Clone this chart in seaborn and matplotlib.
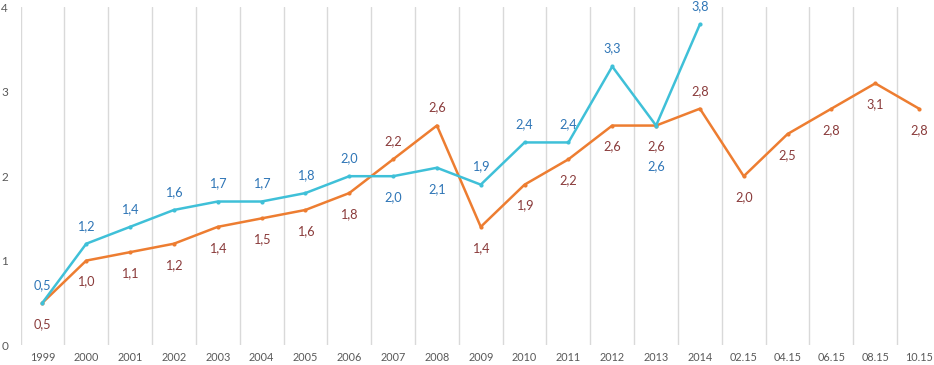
import numpy as np
import pandas as pd
import matplotlib
matplotlib.use("Agg")
import matplotlib.pyplot as plt
import seaborn as sns

# Dados
categories = ["1999", "2000", "2001", "2002", "2003", "2004", "2005", "2006",
              "2007", "2008", "2009", "2010", "2011", "2012", "2013", "2014",
              "02.15", "04.15", "06.15", "08.15", "10.15"]
cyan_values = [0.5, 1.2, 1.4, 1.6, 1.7, 1.7, 1.8, 2.0, 2.0, 2.1, 1.9, 2.4,
               2.4, 3.3, 2.6, 3.8]
orange_values = [0.5, 1.0, 1.1, 1.2, 1.4, 1.5, 1.6, 1.8, 2.2, 2.6, 1.4, 1.9,
                 2.2, 2.6, 2.6, 2.8, 2.0, 2.5, 2.8, 3.1, 2.8]
y_ticks = [0, 1, 2, 3, 4]

# Posição dos rótulos (exceções)
cyan_below = {"2007": 21, "2008": 21, "2013": 41}
orange_above = {"2007", "2008", "2014"}

CYAN = "#3FC0D8"
BLUE_LBL = "#2E75B6"
ORANGE = "#ED7D31"
RED_LBL = "#8A3B3B"

sns.set_theme(style="white")
plt.rcParams["font.family"] = ["Lato", "DejaVu Sans"]

df_c = pd.DataFrame({"x": np.arange(len(cyan_values)), "y": cyan_values})
df_o = pd.DataFrame({"x": np.arange(len(orange_values)), "y": orange_values})

fig = plt.figure(figsize=(9.34, 3.65), dpi=100)
ax = fig.add_axes([20.5 / 934, 20 / 365, 920.5 / 934, 337.6 / 365])

sns.lineplot(data=df_o, x="x", y="y", ax=ax, color=ORANGE, linewidth=1.8,
             marker="o", markersize=3, markeredgewidth=0, sort=False)
sns.lineplot(data=df_c, x="x", y="y", ax=ax, color=CYAN, linewidth=1.8,
             marker="o", markersize=3, markeredgewidth=0, sort=False)

px = 0.72  # pontos por pixel
for i, v in enumerate(cyan_values):
    cat = categories[i]
    if cat in cyan_below:
        off = -cyan_below[cat] * px
    else:
        off = 18 * px
    ax.annotate(f"{v:.1f}".replace(".", ","), (i, v), xytext=(0, off),
                textcoords="offset points", ha="center", va="center",
                fontsize=9.2, color=BLUE_LBL, annotation_clip=False)

for i, v in enumerate(orange_values):
    cat = categories[i]
    off = 18 * px if cat in orange_above else -21 * px
    ax.annotate(f"{v:.1f}".replace(".", ","), (i, v), xytext=(0, off),
                textcoords="offset points", ha="center", va="center",
                fontsize=9.2, color=RED_LBL, annotation_clip=False)

n = len(categories)
ax.set_xlim(-0.5, n - 0.5)
ax.set_ylim(0, 4)
ax.set_xticks(np.arange(n))
ax.set_xticklabels(categories)
ax.set_yticks(y_ticks)
ax.set_xticks(np.arange(-0.5, n), minor=True)
ax.grid(False)
ax.grid(which="minor", axis="x", color="#D9D9D9", linewidth=1)
ax.tick_params(axis="both", which="both", length=0)
ax.tick_params(axis="x", labelsize=7.8, colors="#595959", pad=5)
ax.tick_params(axis="y", labelsize=8.5, colors="#595959", pad=9)
for s in ax.spines.values():
    s.set_visible(False)
ax.set_xlabel("")
ax.set_ylabel("")

fig.savefig("out.png", dpi=100)
